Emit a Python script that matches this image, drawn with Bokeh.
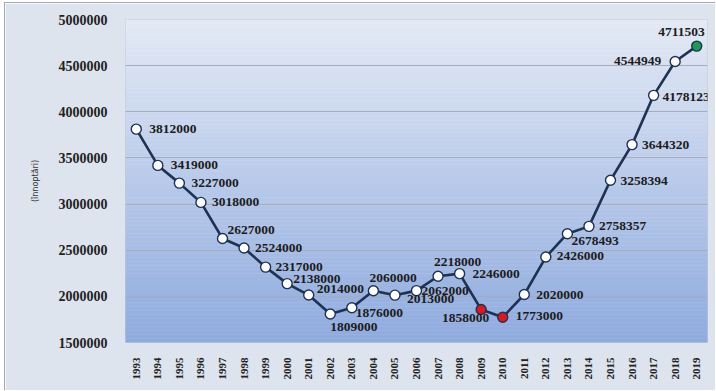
from math import pi

import numpy as np
from bokeh.embed import file_html
from bokeh.models import (ColumnDataSource, FactorRange, FixedTicker,
                          LabelSet, NumeralTickFormatter, Range1d)
from bokeh.plotting import figure
from bokeh.resources import INLINE

# Overnight stays per year
years = [str(y) for y in range(1993, 2020)]
stays = [3812000, 3419000, 3227000, 3018000, 2627000, 2524000, 2317000,
         2138000, 2014000, 1809000, 1876000, 2060000, 2013000, 2062000,
         2218000, 2246000, 1858000, 1773000, 2020000, 2426000, 2678493,
         2758357, 3258394, 3644320, 4178123, 4544949, 4711503]
y_ticks = [1500000, 2000000, 2500000, 3000000, 3500000, 4000000, 4500000, 5000000]

# Marker colours: crisis years in red, latest year in green
marker_fill = {"2009": "#e0161b", "2010": "#e0161b", "2019": "#1f9a55"}

# Label placement around each point: (dx, dy, align)
label_place = {
    "1993": (13, 0, "left"), "1994": (13, 0, "left"), "1995": (12, 0, "left"),
    "1996": (11, 0, "left"), "1997": (5, 8, "left"), "1998": (11, 0, "left"),
    "1999": (10, 0, "left"), "2000": (6, 5, "left"), "2001": (8, 6, "left"),
    "2002": (0, -13, "left"), "2003": (4, -5, "left"), "2004": (-4, 13, "left"),
    "2005": (12, -4, "left"), "2006": (5, 0, "left"), "2007": (-4, 14, "left"),
    "2008": (13, 0, "left"), "2009": (8, -9, "right"), "2010": (13, 1, "left"),
    "2011": (12, 0, "left"), "2012": (11, 1, "left"), "2013": (4, -7, "left"),
    "2014": (10, 0, "left"), "2015": (10, -1, "left"), "2016": (10, 0, "left"),
    "2017": (9, -2, "left"), "2018": (-14, 0, "right"), "2019": (8, 14, "right"),
}

source = ColumnDataSource(dict(
    year=years,
    value=stays,
    label=[str(v) for v in stays],
    fill=[marker_fill.get(y, "white") for y in years],
    dx=[label_place[y][0] for y in years],
    dy=[label_place[y][1] for y in years],
    align=[label_place[y][2] for y in years],
))

p = figure(
    x_range=FactorRange(*years, range_padding=0),
    y_range=Range1d(y_ticks[0], y_ticks[-1]),
    width=711, height=388,
    output_backend="svg", toolbar_location=None,
    min_border_left=120, min_border_right=9,
    min_border_top=16, min_border_bottom=49,
    border_fill_color="#dde4ee",
    outline_line_color="#c3ccd9",
)
p.margin = (2, 0, 0, 4)
p.styles = {"border-left": "1px solid #a4a8ae", "border-top": "1px solid #a4a8ae"}

# Vertical gradient behind the plot area
n_bands = 80
edges = np.linspace(y_ticks[0], y_ticks[-1], n_bands + 1)
top_rgb = np.array([228, 234, 245])
bot_rgb = np.array([142, 170, 222])
band_colors = []
for i in range(n_bands):
    t = (i + 0.5) / n_bands
    c = bot_rgb + (top_rgb - bot_rgb) * t
    band_colors.append("#%02x%02x%02x" % tuple(int(round(v)) for v in c))
p.quad(left=0, right=len(years), bottom=edges[:-1], top=edges[1:],
       fill_color=band_colors, line_color=band_colors, line_width=0.5,
       level="image")

p.xgrid.visible = False
p.ygrid.grid_line_color = "#a3adbe"
p.ygrid.grid_line_width = 1
p.ygrid.ticker = FixedTicker(ticks=y_ticks)

# Axes
p.yaxis.ticker = FixedTicker(ticks=y_ticks)
p.yaxis.formatter = NumeralTickFormatter(format="0")
p.yaxis.major_label_text_font = "Liberation Serif"
p.yaxis.major_label_text_font_style = "bold"
p.yaxis.major_label_text_font_size = "14px"
p.yaxis.major_label_text_color = "#222222"
p.yaxis.major_label_standoff = 12
p.yaxis.axis_label = "(înnoptări)"
p.yaxis.axis_label_text_font = "DejaVu Sans"
p.yaxis.axis_label_text_font_style = "normal"
p.yaxis.axis_label_text_font_size = "8px"
p.yaxis.axis_label_text_color = "#333333"
p.yaxis.axis_label_standoff = 16

p.xaxis.major_label_orientation = pi / 2
p.xaxis.major_label_text_font = "Liberation Serif"
p.xaxis.major_label_text_font_style = "bold"
p.xaxis.major_label_text_font_size = "11px"
p.xaxis.major_label_text_color = "#222222"
p.xaxis.major_label_standoff = 9

for ax in (p.xaxis, p.yaxis):
    ax.axis_line_color = None
    ax.major_tick_line_color = None
    ax.minor_tick_line_color = None

# Series line and markers
p.line("year", "value", source=source, line_color="#1e3253", line_width=2.6)
p.scatter("year", "value", source=source, size=10, fill_color="fill",
          line_color="#1e3253", line_width=1.4)

# Value labels
labels = LabelSet(x="year", y="value", text="label", source=source,
                  x_offset="dx", y_offset="dy", text_align="align",
                  text_baseline="middle", text_font="Liberation Serif",
                  text_font_style="bold", text_font_size="13.5px",
                  text_color="#1c1c1c")
p.add_layout(labels)

open("out.html", "w").write(file_html(p, INLINE))
